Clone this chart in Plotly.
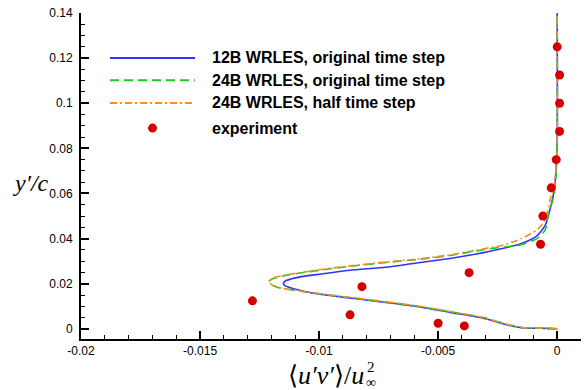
import plotly.graph_objects as go

# ---------------- data ----------------
blue_x = [0.0, -0.0005, -0.0014, -0.0020, -0.0031, -0.0045, -0.0059, -0.0072, -0.0087, -0.0099,
          -0.0107, -0.0112, -0.01145, -0.0115, -0.0114, -0.0110, -0.0104, -0.0099, -0.0087, -0.0072,
          -0.0059, -0.0045, -0.0037, -0.0031, -0.00225, -0.0015, -0.00085, -0.0005, -0.0003, -0.00015,
          -0.00005, 0.0, 0.0]
blue_y = [0.0, 0.0002, 0.0004, 0.0015, 0.0047, 0.0073, 0.0099, 0.0117, 0.0137, 0.0152,
          0.0168, 0.0182, 0.0193, 0.0202, 0.0213, 0.0226, 0.0237, 0.0243, 0.0260, 0.0273,
          0.0292, 0.0312, 0.0326, 0.0338, 0.0357, 0.0378, 0.0412, 0.0460, 0.0530, 0.0600,
          0.0700, 0.0850, 0.1400]

green_x = [0.0, -0.0005, -0.0014, -0.0020, -0.0031, -0.0045, -0.0059, -0.0072, -0.0087, -0.0099,
           -0.0108, -0.0116, -0.0120, -0.0121, -0.0119, -0.0114, -0.0099, -0.0087, -0.0072, -0.0059,
           -0.0045, -0.0037, -0.0025, -0.00155, -0.00085, -0.0005, -0.00036, -0.00015, -0.00005, 0.0, 0.0]
green_y = [0.0, 0.0003, 0.0005, 0.0017, 0.0050, 0.0076, 0.0101, 0.0119, 0.0139, 0.0154,
           0.0167, 0.0180, 0.0195, 0.0210, 0.0224, 0.0237, 0.0261, 0.0277, 0.0294, 0.0307,
           0.0325, 0.0340, 0.0360, 0.0372, 0.0400, 0.0439, 0.0512, 0.0586, 0.0680, 0.0850, 0.1400]

orange_x = [0.0, -0.0005, -0.0014, -0.0020, -0.0031, -0.0045, -0.0059, -0.0072, -0.0087, -0.0099,
            -0.0108, -0.0116, -0.0120, -0.0121, -0.0119, -0.0114, -0.0099, -0.0087, -0.0072, -0.0059,
            -0.0045, -0.0037, -0.00225, -0.0015, -0.00085, -0.0005, -0.0003, -0.00012, 0.0, 0.0]
orange_y = [0.0, 0.0003, 0.0005, 0.0017, 0.0050, 0.0077, 0.0102, 0.0120, 0.0140, 0.0155,
            0.0168, 0.0181, 0.0196, 0.0212, 0.0226, 0.0239, 0.0263, 0.0279, 0.0296, 0.0309,
            0.0328, 0.0343, 0.0372, 0.0400, 0.0439, 0.0483, 0.0572, 0.0640, 0.0800, 0.1400]

exp_x = [-0.0039, -0.0050, -0.0087, -0.0128, -0.0082, -0.0037, -0.0007, -0.0006, -0.00025,
         -0.00004, 0.0001, 0.0001, 0.0001, 0.0000]
exp_y = [0.0013, 0.0025, 0.0062, 0.0124, 0.0187, 0.0249, 0.0375, 0.0500, 0.0625,
         0.0750, 0.0875, 0.1000, 0.1125, 0.1250]

names = ["12B WRLES, original time step", "24B WRLES, original time step",
         "24B WRLES, half time step", "experiment"]

x_ticks = [-0.02, -0.015, -0.01, -0.005, 0]
x_ticklabels = ["-0.02", "-0.015", "-0.01", "-0.005", "0"]
y_ticks = [0, 0.02, 0.04, 0.06, 0.08, 0.1, 0.12, 0.14]
y_ticklabels = ["0", "0.02", "0.04", "0.06", "0.08", "0.1", "0.12", "0.14"]

# ---------------- styles ----------------
colors = ["#3232ff", "#1ec81e", "#ff8c1e", "#d40000"]
dashes = ["solid", "9px,5px", "7px,3px,2px,3px"]

fig = go.Figure()
for xs, ys, nm, c, d in [(blue_x, blue_y, names[0], colors[0], dashes[0]),
                         (green_x, green_y, names[1], colors[1], dashes[1]),
                         (orange_x, orange_y, names[2], colors[2], dashes[2])]:
    fig.add_trace(go.Scatter(x=xs, y=ys, mode="lines", name=nm, showlegend=False,
                             line=dict(color=c, width=1.6, dash=d, shape="spline", smoothing=0.6)))
fig.add_trace(go.Scatter(x=exp_x, y=exp_y, mode="markers", name=names[3], showlegend=False,
                         marker=dict(color=colors[3], size=9, line=dict(width=0))))

axis_common = dict(showline=True, linecolor="black", linewidth=2, ticks="inside",
                   ticklen=8, tickwidth=1.5, tickcolor="black", showgrid=False, zeroline=False,
                   automargin=False,
                   tickfont=dict(family="Liberation Sans, Arial", size=12, color="black"))

fig.update_xaxes(range=[-0.02, 0.001], tickvals=x_ticks, ticktext=x_ticklabels,
                 minor=dict(ticks="inside", ticklen=4, dtick=0.001, tick0=0, tickcolor="black", tickwidth=1),
                 **axis_common)
fig.update_yaxes(range=[-0.0045, 0.14], tickvals=y_ticks, ticktext=y_ticklabels,
                 minor=dict(ticks="inside", ticklen=4, dtick=0.005, tick0=0, tickcolor="black", tickwidth=1),
                 ticklabelstandoff=4, **axis_common)

fig.update_layout(
    width=586, height=390,
    margin=dict(l=81, r=5, t=13, b=51, autoexpand=False),
    plot_bgcolor="white", paper_bgcolor="white",
    showlegend=False,
)

# ---------------- manual legend (long line samples) ----------------
leg_x0, leg_x1, leg_xt = 0.058, 0.228, 0.258
leg_rows = [0.862, 0.794, 0.724, 0.647]
legfont = dict(family="Liberation Sans, Arial", size=16, color="black", weight="bold")
for i in range(3):
    fig.add_shape(type="line", xref="paper", yref="paper", x0=leg_x0, x1=leg_x1,
                  y0=leg_rows[i], y1=leg_rows[i], line=dict(color=colors[i], width=2, dash=dashes[i]))
xm = (leg_x0 + leg_x1) / 2
fig.add_shape(type="circle", xref="paper", yref="paper", x0=xm - 0.009, x1=xm + 0.009,
              y0=leg_rows[3] - 0.0138, y1=leg_rows[3] + 0.0138,
              fillcolor=colors[3], line=dict(width=0))
for i in range(4):
    fig.add_annotation(xref="paper", yref="paper", x=leg_xt, y=leg_rows[i], xanchor="left",
                       yanchor="middle", text=names[i], showarrow=False, font=legfont)

# ---------------- axis titles ----------------
serif = "Liberation Serif, Times New Roman"
fig.add_annotation(xref="paper", yref="paper", x=-0.1, y=0.48, xanchor="center", yanchor="middle",
                   text="<i>y′/c</i>", showarrow=False, font=dict(family=serif, size=24, color="black"))
fig.add_annotation(xref="paper", yref="paper", x=0.57, y=-0.112, xanchor="right", yanchor="middle",
                   text="⟨<i>u′v′</i>⟩/<i>u</i>", showarrow=False, font=dict(family=serif, size=26, color="black"))
fig.add_annotation(xref="paper", yref="paper", x=0.568, y=-0.085, xanchor="left", yanchor="middle",
                   text="2", showarrow=False, font=dict(family=serif, size=15, color="black"))
fig.add_annotation(xref="paper", yref="paper", x=0.566, y=-0.132, xanchor="left", yanchor="middle",
                   text="∞", showarrow=False, font=dict(family=serif, size=14, color="black"))

fig.write_html("out.html", config={"displayModeBar": False},
               post_script="document.body.style.margin='0';document.body.style.overflow='hidden';")
